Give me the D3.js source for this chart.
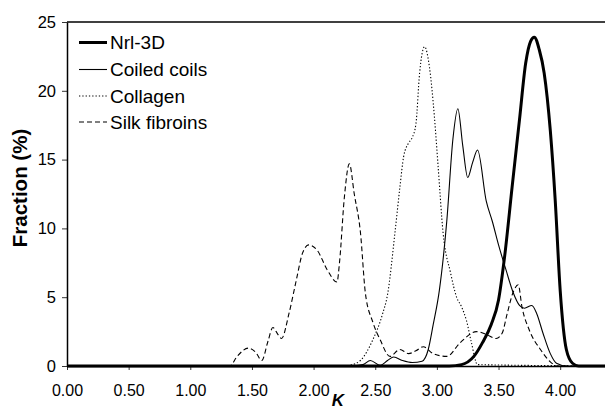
<!DOCTYPE html>
<html><head><meta charset="utf-8">
<script src="https://cdn.jsdelivr.net/npm/d3@7"></script>
<style>body{margin:0;background:#fff;} svg{display:block;font-family:"Liberation Sans",Arial,sans-serif;}</style>
</head><body><svg id="c" width="605" height="410"></svg>
<script>
const xTicks = [0,0.5,1,1.5,2,2.5,3,3.5,4];
const yTicks = [0,5,10,15,20,25];
const seriesNames = ["Nrl-3D","Coiled coils","Collagen","Silk fibroins"];

const kNrl = [0,3.10,3.20,3.30,3.37,3.44,3.50,3.55,3.61,3.67,3.72,3.76,3.79,3.83,3.87,3.92,3.96,4.00,4.05,4.10,4.15,4.4];
const vNrl = [0,0,0.1,0.7,1.7,3.0,4.8,8.0,13.0,17.9,22.0,23.6,23.9,23.0,21.3,17.1,12.0,5.5,1.2,0.2,0,0];

const kCoil = [0,2.30,2.40,2.46,2.54,2.60,2.65,2.72,2.80,2.88,2.93,2.97,3.02,3.08,3.13,3.17,3.21,3.25,3.29,3.33,3.40,3.45,3.50,3.56,3.62,3.67,3.71,3.77,3.81,3.86,3.92,3.97,4.05,4.4];
const vCoil = [0,0,0.1,0.4,0.05,0.4,0.65,0.4,0.25,0.35,1.2,3.0,5.5,10.5,16.5,18.7,16.0,13.7,14.8,15.7,12.0,10.5,8.8,7.0,5.3,4.4,4.2,4.4,3.8,2.4,0.9,0.2,0,0];

const kColl = [0,2.26,2.30,2.38,2.48,2.56,2.60,2.66,2.70,2.73,2.77,2.80,2.83,2.86,2.90,2.94,2.98,3.01,3.05,3.11,3.16,3.20,3.24,3.28,3.33,4.4];
const vColl = [0,0,0.07,0.4,1.9,3.8,5.2,9.7,13.0,15.2,16.2,16.6,17.6,21.3,23.2,21.7,18.1,14.5,9.7,6.8,5.0,4.3,3.3,1.7,0.1,0];

const kSilk = [0,1.32,1.38,1.47,1.53,1.58,1.63,1.67,1.71,1.74,1.80,1.86,1.91,1.96,2.03,2.11,2.19,2.21,2.25,2.29,2.33,2.38,2.42,2.48,2.54,2.62,2.70,2.77,2.83,2.89,2.97,3.08,3.19,3.32,3.40,3.48,3.53,3.57,3.62,3.66,3.69,3.75,3.84,3.92,3.98,4.4];
const vSilk = [0,0,0.7,1.3,1.0,0.4,1.8,2.8,2.3,2.0,3.8,6.25,8.2,8.8,8.4,7.0,6.1,7.5,12.3,14.7,12.5,9.7,5.3,3.2,1.9,0.7,1.2,0.9,1.1,1.4,0.9,0.7,1.7,2.5,2.3,2.0,2.4,3.8,5.4,5.9,4.3,2.6,1.2,0.3,0,0];

const svg = d3.select("#c");
const x = d3.scaleLinear().domain([0,4.4]).range([67,609.5]);
const y = d3.scaleLinear().domain([0,25]).range([366,22]);

// top border
svg.append("line").attr("x1",67).attr("x2",605).attr("y1",y(25)).attr("y2",y(25)).attr("stroke","#000").attr("stroke-width",1.5);

const xa = svg.append("g").attr("transform","translate(0,366)")
  .call(d3.axisBottom(x).tickValues(xTicks).tickFormat(d3.format(".2f")).tickSize(4).tickSizeOuter(0));
xa.select(".domain").attr("stroke-width",1.5);
xa.selectAll("text").attr("font-size",16).attr("y",7).attr("dy","1.45em").attr("font-family","Liberation Sans, Arial, sans-serif");
xa.selectAll("line").attr("stroke-width",0.8);

const ya = svg.append("g").attr("transform","translate(67,0)")
  .call(d3.axisLeft(y).tickValues(yTicks).tickSize(5).tickSizeOuter(0));
ya.select(".domain").attr("stroke-width",1.5);
ya.selectAll("text").attr("font-size",16.5).attr("x",-11).attr("font-family","Liberation Sans, Arial, sans-serif");
ya.selectAll("line").attr("stroke-width",0.8);

const line = d3.line().x(d=>x(d[0])).y(d=>y(d[1])).curve(d3.curveMonotoneX);
const series = [
  {k:kColl,v:vColl,w:1.1,dash:"1.3,2"},
  {k:kSilk,v:vSilk,w:1.1,dash:"5,3"},
  {k:kCoil,v:vCoil,w:1.1,dash:null},
  {k:kNrl,v:vNrl,w:3,dash:null}
];
series.forEach(s=>{
  svg.append("path").datum(d3.zip(s.k,s.v)).attr("d",line)
    .attr("fill","none").attr("stroke","#000").attr("stroke-width",s.w)
    .attr("stroke-dasharray",s.dash).attr("stroke-linejoin","round");
});

// legend
const legStyles = [{w:3,dash:null},{w:1.1,dash:null},{w:1.1,dash:"1.3,2"},{w:1.1,dash:"5,3"}];
const legY = [42.5,69.5,96,122];
seriesNames.forEach((n,i)=>{
  svg.append("line").attr("x1",79).attr("x2",107).attr("y1",legY[i]).attr("y2",legY[i])
    .attr("stroke","#000").attr("stroke-width",legStyles[i].w).attr("stroke-dasharray",legStyles[i].dash);
  svg.append("text").attr("x",110).attr("y",legY[i]).attr("dy","0.35em").attr("font-size",19).text(n);
});

svg.append("text").attr("transform","translate(27,188) rotate(-90)").attr("text-anchor","middle")
  .attr("font-size",20.5).attr("font-weight","bold").text("Fraction (%)");
svg.append("text").attr("x",338).attr("y",406).attr("text-anchor","middle")
  .attr("font-size",17).attr("font-weight","bold").attr("font-style","italic").text("K");
</script></body></html>
